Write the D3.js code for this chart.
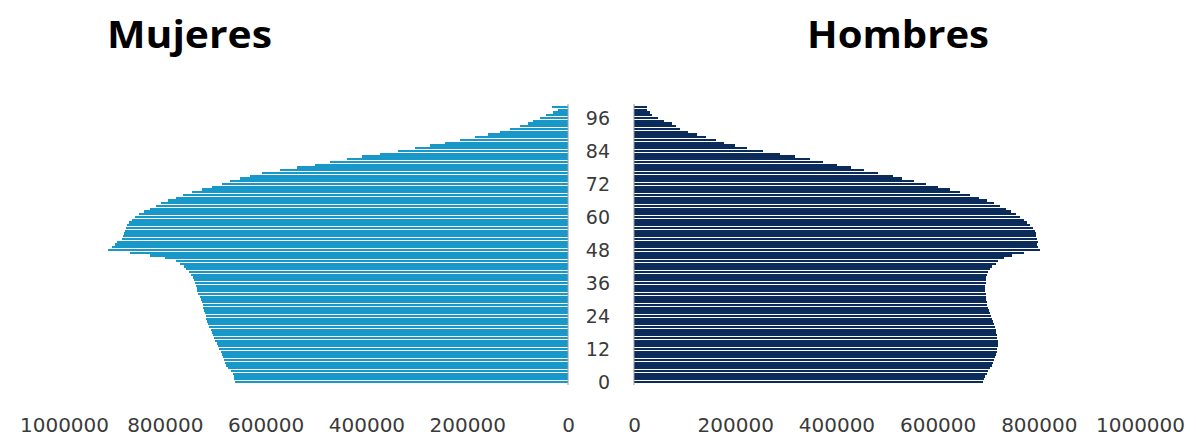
<!DOCTYPE html>
<html>
<head>
<meta charset="utf-8">
<script src="https://cdn.jsdelivr.net/npm/d3@7"></script>
<style>
  html, body { margin: 0; padding: 0; background: #fff; }
  svg { display: block; }
  .tick text { font-family: "DejaVu Sans", sans-serif; font-size: 20px; fill: #3a3a3a; }
</style>
</head>
<body>
<svg id="chart" width="1196" height="441"></svg>
<script>
// Ages 0..100 (100 = "100 y más")
const ages = d3.range(0, 101);

// Población femenina por edad simple
const mujeres = [
  660700, 662700, 662700, 664600, 668600, 674600, 678500, 680500, 682500, 684500,
  686500, 688400, 692400, 694400, 696400, 700400, 702300, 704300, 706300, 708300,
  712300, 714200, 716200, 718200, 718200, 720200, 722200, 724200, 724200, 726100,
  728100, 730100, 734100, 736100, 736100, 738000, 740000, 742000, 744000, 748000,
  751900, 757900, 761900, 769800, 777700, 799600, 829300, 869000, 912600, 904700,
  898800, 894800, 884900, 882900, 880900, 878900, 876900, 874900, 871000, 865000,
  859100, 851100, 841200, 829300, 817400, 807500, 793600, 777700, 763800, 746000,
  726100, 706300, 686500, 670600, 650800, 630900, 607100, 571400, 537700, 502000,
  472200, 438500, 408700, 373000, 337300, 303600, 273800, 244000, 214300, 184500,
  158700, 134900, 115100, 95200, 79400, 69400, 55600, 43600, 29800, 19800,
  31700
];

// Población masculina por edad simple
const hombres = [
  689600, 691600, 693600, 697500, 699500, 703500, 707400, 709400, 711400, 713300,
  715300, 717300, 717300, 719300, 719300, 719300, 717300, 717300, 715300, 715300,
  713300, 711400, 709400, 707400, 705400, 703500, 701500, 699500, 697500, 697500,
  695600, 695600, 695600, 693600, 693600, 693600, 695600, 695600, 695600, 697500,
  699500, 703500, 707400, 715300, 719300, 731100, 746900, 770600, 802300, 798300,
  796300, 798300, 796300, 794400, 794400, 792400, 788400, 782500, 776600, 770600,
  762700, 754800, 745000, 735100, 723200, 711400, 697500, 681700, 663900, 644200,
  624400, 600700, 577000, 553300, 529600, 511800, 482100, 454500, 428800, 401100,
  373500, 347800, 318100, 288500, 254900, 223300, 199600, 177800, 162000, 142300,
  124500, 106700, 90900, 83000, 75100, 59300, 47400, 35600, 31600, 25700,
  25700
];

const ageTicks = [0, 12, 24, 36, 48, 60, 72, 84, 96];
const valueTicks = [0, 200000, 400000, 600000, 800000, 1000000];
const titles = ["Mujeres", "Hombres"];

const colors = { mujeres: "#1798c9", hombres: "#0b2b5b", axis: "#9a9a9a" };

const svg = d3.select("#chart");

// Shared vertical scale (age 100 at the top)
const y = d3.scaleBand()
  .domain(ages.slice().reverse())
  .range([105.6, 383.4])
  .paddingInner(0.2)
  .paddingOuter(0.1);

// Left panel grows leftwards from the centre, right panel grows rightwards
const xLeft = d3.scaleLinear().domain([0, 1000000]).range([568, 64]);
const xRight = d3.scaleLinear().domain([0, 1000000]).range([634, 1140]);

const rows = ages.map((a, i) => ({ age: a, f: mujeres[i], m: hombres[i] }));

svg.append("g")
  .attr("shape-rendering", "crispEdges")
  .selectAll("rect")
  .data(rows)
  .join("rect")
  .attr("x", d => xLeft(d.f))
  .attr("y", d => y(d.age))
  .attr("width", d => xLeft(0) - xLeft(d.f))
  .attr("height", y.bandwidth())
  .attr("fill", colors.mujeres);

svg.append("g")
  .attr("shape-rendering", "crispEdges")
  .selectAll("rect")
  .data(rows)
  .join("rect")
  .attr("x", xRight(0))
  .attr("y", d => y(d.age))
  .attr("width", d => xRight(d.m) - xRight(0))
  .attr("height", y.bandwidth())
  .attr("fill", colors.hombres);

// Vertical axis lines at each panel's zero
[xLeft(0), xRight(0)].forEach(x0 => {
  svg.append("line")
    .attr("x1", x0).attr("x2", x0)
    .attr("y1", 104).attr("y2", 385)
    .attr("stroke", colors.axis)
    .attr("stroke-width", 1);
});

// Age labels in the central gap
svg.append("g")
  .selectAll("text")
  .data(ageTicks)
  .join("text")
  .attr("x", 610)
  .attr("y", d => y(d) + y.bandwidth() / 2)
  .attr("dy", "0.36em")
  .attr("text-anchor", "end")
  .attr("font-family", "DejaVu Sans, sans-serif")
  .attr("font-size", 19)
  .attr("fill", "#3a3a3a")
  .text(d => d);

// Value axes under each panel
const fmt = d3.format("d");
const axisL = svg.append("g")
  .attr("transform", "translate(0,418)")
  .call(d3.axisBottom(xLeft).tickValues(valueTicks).tickFormat(fmt).tickSize(0).tickPadding(0));
const axisR = svg.append("g")
  .attr("transform", "translate(0,418)")
  .call(d3.axisBottom(xRight).tickValues(valueTicks).tickFormat(fmt).tickSize(0).tickPadding(0));
[axisL, axisR].forEach(g => {
  g.select(".domain").remove();
  g.attr("font-family", null).attr("font-size", null);
});

// Panel titles
const titlePos = [{ x: 107, w: 165 }, { x: 807, w: 182 }];
svg.append("g")
  .selectAll("text")
  .data(titles)
  .join("text")
  .attr("x", (d, i) => titlePos[i].x)
  .attr("y", 48)
  .attr("textLength", (d, i) => titlePos[i].w)
  .attr("lengthAdjust", "spacingAndGlyphs")
  .attr("font-family", "Open Sans, sans-serif")
  .attr("font-weight", "bold")
  .attr("font-size", 38)
  .attr("fill", "#000")
  .text(d => d);
</script>
</body>
</html>
